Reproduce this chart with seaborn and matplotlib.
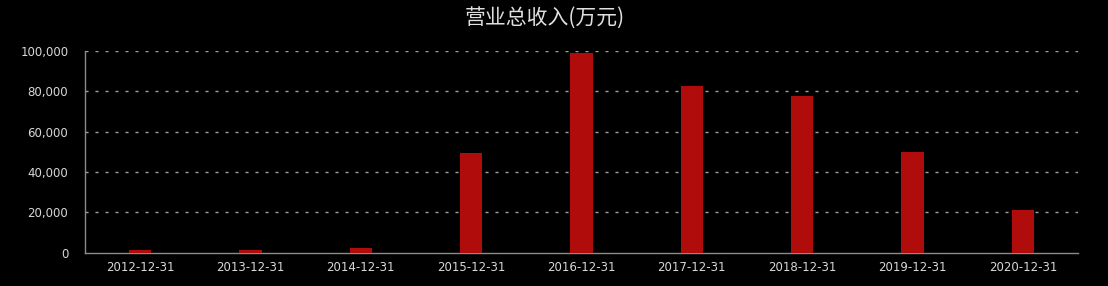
import matplotlib
matplotlib.use("Agg")
import matplotlib.pyplot as plt
import seaborn as sns
import pandas as pd
from matplotlib.ticker import FuncFormatter

dates = ["2012-12-31", "2013-12-31", "2014-12-31", "2015-12-31", "2016-12-31",
         "2017-12-31", "2018-12-31", "2019-12-31", "2020-12-31"]
revenue = [1500, 1400, 2200, 49600, 99100, 82600, 77900, 49700, 21300]
y_ticks = [0, 20000, 40000, 60000, 80000, 100000]
title = "营业总收入(万元)"

sns.set_theme(style="dark")
plt.rcParams['font.family'] = ['Noto Sans CJK SC', 'DejaVu Sans']

df = pd.DataFrame({"date": dates, "revenue": revenue})

fig = plt.figure(figsize=(11.08, 2.86), dpi=100, facecolor="black")
ax = fig.add_axes([85/1108, 1-252.7/286, (1078-85)/1108, (252.7-51)/286])
ax.set_facecolor("black")

sns.barplot(data=df, x="date", y="revenue", color="#b00c0c", saturation=1,
            width=0.205, ax=ax, zorder=3, edgecolor="none", linewidth=0)

ax.set_xlim(-0.5, len(dates) - 0.5)
ax.set_ylim(0, 100000)
ax.set_yticks(y_ticks)
ax.yaxis.set_major_formatter(FuncFormatter(lambda v, p: f"{int(v):,}"))
ax.grid(False)
for t in y_ticks[1:]:
    ax.axhline(t, color="#a0a0a0", lw=1.0, dashes=(2.2, 5.0), zorder=1)

ax.set_xlabel("")
ax.set_ylabel("")
for s in ["top", "right"]:
    ax.spines[s].set_visible(False)
for s in ["left", "bottom"]:
    ax.spines[s].set_visible(True)
    ax.spines[s].set_color("#8a8a8a")
    ax.spines[s].set_linewidth(1.0)
ax.tick_params(axis="both", length=0, colors="#d8d8d8", labelsize=8.5)
ax.tick_params(axis="x", pad=6)
ax.tick_params(axis="y", pad=12)
for lab in ax.get_xticklabels() + ax.get_yticklabels():
    lab.set_family(["DejaVu Sans"])

fig.text(545/1108, 1-18/286, title, ha="center", va="center",
         color="#e0e0e0", fontsize=15)

fig.savefig("out.png", dpi=100, facecolor="black")
